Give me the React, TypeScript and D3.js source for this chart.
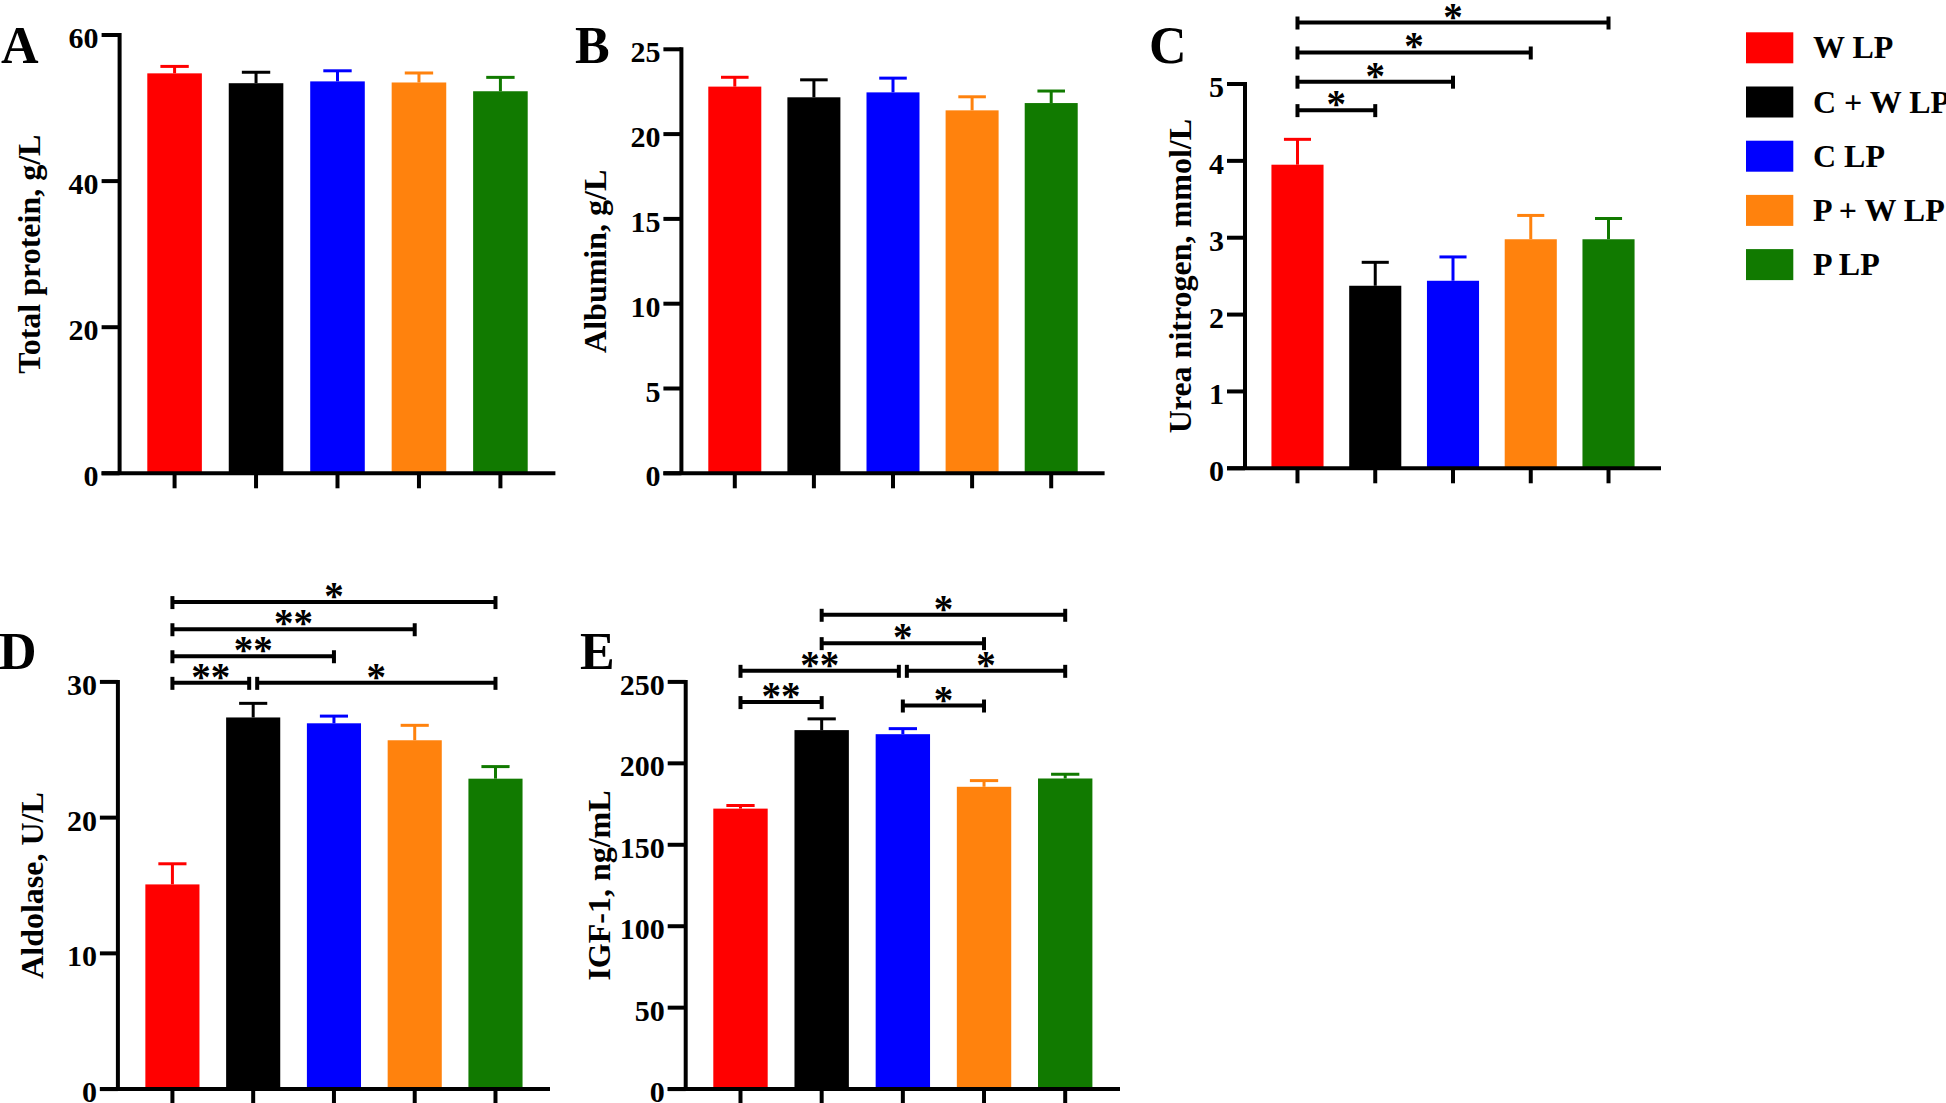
import React from "react";
import * as d3 from "d3";

// ---------- data ----------
const groups = ["W LP", "C + W LP", "C LP", "P + W LP", "P LP"];
const groupColors = ["#FF0000", "#000000", "#0000FF", "#FF820D", "#117A00"];

const totalProteinMean = [54.75, 53.4, 53.65, 53.5, 52.3];
const totalProteinSem = [0.95, 1.5, 1.45, 1.3, 1.9];
const totalProteinTicks = [0, 20, 40, 60];

const albuminMean = [22.8, 22.17, 22.46, 21.4, 21.83];
const albuminSem = [0.55, 1.03, 0.84, 0.8, 0.71];
const albuminTicks = [0, 5, 10, 15, 20, 25];

const ureaMean = [3.95, 2.375, 2.44, 2.98, 2.98];
const ureaSem = [0.33, 0.305, 0.31, 0.31, 0.27];
const ureaTicks = [0, 1, 2, 3, 4, 5];

const aldolaseMean = [15.08, 27.38, 26.95, 25.7, 22.87];
const aldolaseSem = [1.52, 1.04, 0.53, 1.1, 0.89];
const aldolaseTicks = [0, 10, 20, 30];

const igfMean = [172.2, 220.4, 217.9, 185.6, 190.7];
const igfSem = [1.9, 6.9, 3.4, 3.8, 2.6];
const igfTicks = [0, 50, 100, 150, 200, 250];

// significance brackets: [from group, to group, label, height in data units]
type Bracket = [number, number, string, number];
const ureaBrackets: Bracket[] = [
  [0, 1, "*", 4.66],
  [0, 2, "*", 5.03],
  [0, 3, "*", 5.41],
  [0, 4, "*", 5.8],
];
const aldolaseBrackets: Bracket[] = [
  [0, 1, "**", 29.93],
  [1, 4, "*", 29.93],
  [0, 2, "**", 31.89],
  [0, 3, "**", 33.88],
  [0, 4, "*", 35.88],
];
const igfBrackets: Bracket[] = [
  [0, 1, "**", 237.6],
  [2, 3, "*", 235.5],
  [0, 2, "**", 256.8],
  [2, 4, "*", 256.8],
  [1, 3, "*", 273.8],
  [1, 4, "*", 291.2],
];

// ---------- layout ----------
const FONT = "'Liberation Serif', 'Times New Roman', serif";

type Layout = {
  axisX: number;
  xEnd: number;
  yTop: number;
  yZero: number;
  letter: string;
  letterX: number;
  letterY: number;
  ylabel: string;
  ylabelX: number;
};

type PanelProps = {
  mean: number[];
  sem: number[];
  ticks: number[];
  brackets?: Bracket[];
  layout: Layout;
};

function Panel({ mean, sem, ticks, brackets = [], layout }: PanelProps) {
  const { axisX, xEnd, yTop, yZero } = layout;
  const x = d3
    .scaleBand<string>()
    .domain(groups)
    .range([axisX, xEnd])
    .paddingInner(0.33)
    .paddingOuter(0.34);
  const maxTick = ticks[ticks.length - 1];
  const y = d3.scaleLinear().domain([0, maxTick]).range([yZero, yTop]);
  const bw = x.bandwidth();
  const cx = (i: number) => (x(groups[i]) as number) + bw / 2;
  const capW = bw * 0.52;
  const tickLen = 18;
  const axisW = 4;

  return (
    <g>
      {/* bars */}
      {groups.map((g, i) => (
        <rect
          key={"bar" + g}
          x={x(g)}
          y={y(mean[i])}
          width={bw}
          height={y(0) - y(mean[i])}
          fill={groupColors[i]}
        />
      ))}
      {/* error bars */}
      {groups.map((g, i) => (
        <g key={"err" + g} stroke={groupColors[i]} strokeWidth={3}>
          <line x1={cx(i)} x2={cx(i)} y1={y(mean[i])} y2={y(mean[i] + sem[i])} />
          <line
            x1={cx(i) - capW / 2}
            x2={cx(i) + capW / 2}
            y1={y(mean[i] + sem[i])}
            y2={y(mean[i] + sem[i])}
          />
        </g>
      ))}
      {/* y axis */}
      <line x1={axisX} x2={axisX} y1={yTop - axisW / 2} y2={yZero} stroke="#000" strokeWidth={axisW} />
      {ticks.map((t) => (
        <g key={"yt" + t}>
          <line x1={axisX - tickLen} x2={axisX} y1={y(t)} y2={y(t)} stroke="#000" strokeWidth={axisW} />
          <text
            x={axisX - 21}
            y={y(t) + 13}
            textAnchor="end"
            fontFamily={FONT}
            fontWeight="bold"
            fontSize={30}
            fill="#000"
          >
            {t}
          </text>
        </g>
      ))}
      {/* x axis */}
      <line x1={axisX - tickLen} x2={xEnd} y1={yZero} y2={yZero} stroke="#000" strokeWidth={axisW} />
      {groups.map((g, i) => (
        <line key={"xt" + g} x1={cx(i)} x2={cx(i)} y1={yZero} y2={yZero + 15} stroke="#000" strokeWidth={axisW} />
      ))}
      {/* brackets */}
      {brackets.map(([a, b, lab, h], k) => {
        const yy = y(h);
        const sharedRight = brackets.some((o) => o !== brackets[k] && o[3] === h && o[0] === b);
        const sharedLeft = brackets.some((o) => o !== brackets[k] && o[3] === h && o[1] === a);
        const x1 = cx(a) + (sharedLeft ? 4 : 0);
        const x2 = cx(b) - (sharedRight ? 4 : 0);
        return (
          <g key={"br" + k}>
            <line x1={x1} x2={x2} y1={yy} y2={yy} stroke="#000" strokeWidth={4} />
            <line x1={x1} x2={x1} y1={yy - 6} y2={yy + 7} stroke="#000" strokeWidth={4} />
            <line x1={x2} x2={x2} y1={yy - 6} y2={yy + 7} stroke="#000" strokeWidth={4} />
            <text
              x={(x1 + x2) / 2}
              y={yy + 7}
              textAnchor="middle"
              fontFamily={FONT}
              fontWeight="bold"
              fontSize={39}
              fill="#000"
            >
              {lab}
            </text>
          </g>
        );
      })}
      {/* y label */}
      <text
        transform={`translate(${layout.ylabelX},${(yTop + yZero) / 2}) rotate(-90)`}
        textAnchor="middle"
        fontFamily={FONT}
        fontWeight="bold"
        fontSize={32}
        fill="#000"
      >
        {layout.ylabel}
      </text>
      {/* panel letter */}
      <text
        x={layout.letterX}
        y={layout.letterY}
        fontFamily={FONT}
        fontWeight="bold"
        fontSize={52}
        fill="#000"
      >
        {layout.letter}
      </text>
    </g>
  );
}

const layoutA: Layout = { axisX: 119.6, xEnd: 555.4, yTop: 35, yZero: 473.3, letter: "A", letterX: 1, letterY: 63, ylabel: "Total protein, g/L", ylabelX: 39.5 };
const layoutB: Layout = { axisX: 681.4, xEnd: 1104.6, yTop: 49.3, yZero: 473.3, letter: "B", letterX: 575, letterY: 63, ylabel: "Albumin, g/L", ylabelX: 606 };
const layoutC: Layout = { axisX: 1245, xEnd: 1661, yTop: 84, yZero: 468.3, letter: "C", letterX: 1149, letterY: 63, ylabel: "Urea nitrogen, mmol/L", ylabelX: 1191 };
const layoutD: Layout = { axisX: 117.9, xEnd: 550, yTop: 681.9, yZero: 1089.1, letter: "D", letterX: -1, letterY: 669, ylabel: "Aldolase, U/L", ylabelX: 43 };
const layoutE: Layout = { axisX: 685.7, xEnd: 1120, yTop: 681.9, yZero: 1089.1, letter: "E", letterX: 580, letterY: 669, ylabel: "IGF-1, ng/mL", ylabelX: 610 };

function Legend() {
  return (
    <g>
      {groups.map((g, i) => (
        <g key={"lg" + g} transform={`translate(1746,${32.3 + i * 54.2})`}>
          <rect x={0} y={0} width={47.3} height={31} fill={groupColors[i]} />
          <text x={67} y={26} fontFamily={FONT} fontWeight="bold" fontSize={32} fill="#000">
            {g}
          </text>
        </g>
      ))}
    </g>
  );
}

export default function App() {
  return (
    <svg
      width={1946}
      height={1103}
      viewBox="0 0 1946 1103"
      style={{ position: "absolute", left: 0, top: 0, background: "#fff" }}
    >
      <rect x={0} y={0} width={1946} height={1103} fill="#fff" />
      <Panel mean={totalProteinMean} sem={totalProteinSem} ticks={totalProteinTicks} layout={layoutA} />
      <Panel mean={albuminMean} sem={albuminSem} ticks={albuminTicks} layout={layoutB} />
      <Panel mean={ureaMean} sem={ureaSem} ticks={ureaTicks} brackets={ureaBrackets} layout={layoutC} />
      <Panel mean={aldolaseMean} sem={aldolaseSem} ticks={aldolaseTicks} brackets={aldolaseBrackets} layout={layoutD} />
      <Panel mean={igfMean} sem={igfSem} ticks={igfTicks} brackets={igfBrackets} layout={layoutE} />
      <Legend />
    </svg>
  );
}
